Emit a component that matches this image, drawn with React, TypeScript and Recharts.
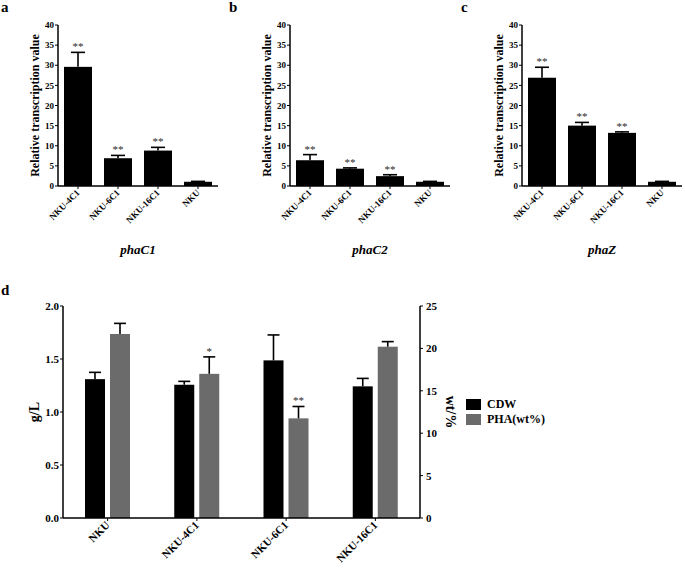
import React from 'react';
import { BarChart, Bar, XAxis, YAxis, Label, Legend } from 'recharts';

const FONT = "'Liberation Serif', 'Times New Roman', Times, serif";

// Panels a-c
const strains = ['NKU-4C1', 'NKU-6C1', 'NKU-16C1', 'NKU'];
const phaC1Values = [29.6, 6.9, 8.8, 1.05];
const phaC1Errors = [3.6, 0.7, 0.8, 0.1];
const phaC2Values = [6.4, 4.3, 2.45, 1.05];
const phaC2Errors = [1.4, 0.2, 0.35, 0.1];
const phaZValues = [26.9, 15.0, 13.2, 1.05];
const phaZErrors = [2.6, 0.8, 0.25, 0.1];
const relMarks = ['**', '**', '**', ''];
const relTicks = [0, 5, 10, 15, 20, 25, 30, 35, 40];

// Panel d
const strainsD = ['NKU', 'NKU-4C1', 'NKU-6C1', 'NKU-16C1'];
const cdwValues = [1.31, 1.257, 1.487, 1.242];
const cdwErrors = [0.064, 0.032, 0.24, 0.075];
const phaValues = [21.7, 17.0, 11.75, 20.2];
const phaErrors = [1.25, 2.0, 1.4, 0.6];
const cdwMarks = ['', '', '', ''];
const phaMarks = ['', '*', '**', ''];
const gTicks = [0, 0.5, 1.0, 1.5, 2.0];
const wtTicks = [0, 5, 10, 15, 20, 25];

const relData = (vals: number[], errs: number[]) =>
  strains.map((s, i) => ({ name: s, value: vals[i], err: errs[i], mark: relMarks[i] }));

const dData = strainsD.map((s, i) => ({
  name: s,
  cdw: cdwValues[i],
  cdwErr: cdwErrors[i],
  cdwMark: cdwMarks[i],
  pha: phaValues[i],
  phaErr: phaErrors[i],
  phaMark: phaMarks[i],
}));

const makeShape =
  (valKey: string, errKey: string, markKey: string, fill: string, capW: number, markSize: number) =>
  (props: any) => {
    const { x, y, width, height, payload } = props;
    const v = payload[valKey];
    const k = v ? height / v : 0;
    const errTop = y - payload[errKey] * k;
    const cx = x + width / 2;
    const mark = payload[markKey];
    return (
      <g>
        <rect x={x} y={y} width={width} height={height} fill={fill} />
        <line x1={cx} y1={y} x2={cx} y2={errTop} stroke="#000" strokeWidth={1.6} />
        <line x1={cx - capW / 2} y1={errTop} x2={cx + capW / 2} y2={errTop} stroke="#000" strokeWidth={1.6} />
        {mark ? (
          <text x={cx} y={errTop - 2} textAnchor="middle" fontSize={markSize} fill="#2a2a2a" fontFamily={FONT}>
            {mark}
          </text>
        ) : null}
      </g>
    );
  };

const rotTick = (fs: number) => (props: any) => {
  const { x, y, payload } = props;
  return (
    <g transform={`translate(${x},${y})`}>
      <text
        x={0}
        y={0}
        dy={fs * 0.35}
        textAnchor="end"
        transform="rotate(-45)"
        fontSize={fs}
        fontWeight="bold"
        fontFamily={FONT}
        fill="#000"
      >
        {payload.value}
      </text>
    </g>
  );
};

const RelPanel = ({ vals, errs, gene, left, letter }: any) => {
  const data = relData(vals, errs);
  return (
    <div style={{ position: 'absolute', left, top: 0, width: 225, height: 285 }}>
      <div
        style={{
          position: 'absolute',
          left: letter === 'a' ? 1 : -3,
          top: -2,
          fontFamily: FONT,
          fontWeight: 'bold',
          fontSize: 15,
          lineHeight: '18px',
        }}
      >
        {letter}
      </div>
      <BarChart
        width={225}
        height={285}
        data={data}
        margin={{ top: 25, right: 7, left: 30, bottom: 49 }}
        barSize={28}
      >
        <XAxis
          dataKey="name"
          height={50}
          interval={0}
          tick={rotTick(9)}
          tickSize={3}
          axisLine={{ stroke: '#000', strokeWidth: 1.5 }}
          tickLine={{ stroke: '#000', strokeWidth: 1 }}
        >
          <Label
            content={(p: any) => {
              const vb = p.viewBox || { x: 58, width: 160, y: 186 };
              return (
                <text
                  x={vb.x + vb.width / 2}
                  y={vb.y + 68}
                  textAnchor="middle"
                  fontSize={13}
                  fontWeight="bold"
                  fontStyle="italic"
                  fontFamily={FONT}
                  fill="#000"
                >
                  {gene}
                </text>
              );
            }}
          />
        </XAxis>
        <YAxis
          width={28}
          domain={[0, 40]}
          ticks={relTicks}
          interval={0}
          tickSize={3}
          tickMargin={1}
          tick={{ fontSize: 9, fontWeight: 'bold', fill: '#000', fontFamily: FONT }}
          axisLine={{ stroke: '#000', strokeWidth: 1.5 }}
          tickLine={{ stroke: '#000', strokeWidth: 1 }}
        >
          <Label
            content={(p: any) => {
              const vb = p.viewBox || { x: 30, y: 25, height: 161 };
              const cx = vb.x + 5;
              const cy = vb.y + vb.height / 2;
              return (
                <text
                  x={cx}
                  y={cy}
                  transform={`rotate(-90 ${cx} ${cy})`}
                  textAnchor="middle"
                  dominantBaseline="central"
                  fontSize={12}
                  fontWeight="bold"
                  fontFamily={FONT}
                  fill="#000"
                >
                  Relative transcription value
                </text>
              );
            }}
          />
        </YAxis>
        <Bar
          dataKey="value"
          isAnimationActive={false}
          shape={makeShape('value', 'err', 'mark', '#000', 14, 11)}
        />
      </BarChart>
    </div>
  );
};

const legendContent = (props: any) => {
  const payload = props.payload || [];
  return (
    <div style={{ fontFamily: FONT }}>
      {payload.map((p: any) => (
        <div key={p.value} style={{ display: 'flex', alignItems: 'center', height: 15 }}>
          <span
            style={{ display: 'inline-block', width: 15, height: 11, background: p.color, marginRight: 6 }}
          />
          <span style={{ fontSize: 12, fontWeight: 'bold', color: '#000' }}>{p.value}</span>
        </div>
      ))}
    </div>
  );
};

const PanelD = () => (
  <div style={{ position: 'absolute', left: 0, top: 280, width: 685, height: 290 }}>
    <div
      style={{
        position: 'absolute',
        left: 1,
        top: 1,
        fontFamily: FONT,
        fontWeight: 'bold',
        fontSize: 15,
        lineHeight: '18px',
      }}
    >
      d
    </div>
    <BarChart
      width={685}
      height={290}
      data={dData}
      margin={{ top: 26, right: 225, left: 28, bottom: 0 }}
      barSize={20}
      barGap={5}
    >
      <XAxis
        dataKey="name"
        height={52}
        interval={0}
        tick={rotTick(11)}
        tickSize={3}
        axisLine={{ stroke: '#000', strokeWidth: 1.5 }}
        tickLine={{ stroke: '#000', strokeWidth: 1 }}
      />
      <YAxis
        yAxisId="left"
        width={35}
        domain={[0, 2]}
        ticks={gTicks}
        interval={0}
        tickSize={3}
        tickMargin={1}
        tickFormatter={(v: number) => v.toFixed(1)}
        tick={{ fontSize: 11, fontWeight: 'bold', fill: '#000', fontFamily: FONT }}
        axisLine={{ stroke: '#000', strokeWidth: 1.5 }}
        tickLine={{ stroke: '#000', strokeWidth: 1 }}
      >
        <Label
          content={(p: any) => {
            const vb = p.viewBox || { x: 28, y: 26, height: 212 };
            const cx = vb.x + 6;
            const cy = vb.y + vb.height / 2;
            return (
              <text
                x={cx}
                y={cy}
                transform={`rotate(-90 ${cx} ${cy})`}
                textAnchor="middle"
                dominantBaseline="central"
                fontSize={14}
                fontWeight="bold"
                fontFamily={FONT}
                fill="#000"
              >
                g/L
              </text>
            );
          }}
        />
      </YAxis>
      <YAxis
        yAxisId="right"
        orientation="right"
        width={40}
        domain={[0, 25]}
        ticks={wtTicks}
        interval={0}
        tickSize={3}
        tickMargin={3}
        tick={{ fontSize: 11, fontWeight: 'bold', fill: '#000', fontFamily: FONT }}
        axisLine={{ stroke: '#000', strokeWidth: 1.5 }}
        tickLine={{ stroke: '#000', strokeWidth: 1 }}
      >
        <Label
          content={(p: any) => {
            const vb = p.viewBox || { x: 420, y: 26, height: 212 };
            const cx = vb.x + 30;
            const cy = vb.y + vb.height / 2;
            return (
              <text
                x={cx}
                y={cy}
                transform={`rotate(90 ${cx} ${cy})`}
                textAnchor="middle"
                dominantBaseline="central"
                fontSize={14}
                fontWeight="bold"
                fontFamily={FONT}
                fill="#000"
              >
                wt/%
              </text>
            );
          }}
        />
      </YAxis>
      <Legend
        layout="horizontal"
        verticalAlign="middle"
        align="center"
        content={legendContent}
        wrapperStyle={{ left: 466, top: 117, width: 120, height: 32 }}
      />
      <Bar
        yAxisId="left"
        dataKey="cdw"
        name="CDW"
        fill="#000"
        isAnimationActive={false}
        shape={makeShape('cdw', 'cdwErr', 'cdwMark', '#000', 12, 11)}
      />
      <Bar
        yAxisId="right"
        dataKey="pha"
        name="PHA(wt%)"
        fill="#6b6b6b"
        isAnimationActive={false}
        shape={makeShape('pha', 'phaErr', 'phaMark', '#6b6b6b', 12, 11)}
      />
    </BarChart>
  </div>
);

export default function App() {
  return (
    <div
      style={{
        position: 'absolute',
        left: 0,
        top: 0,
        width: 685,
        height: 570,
        overflow: 'hidden',
        background: '#fff',
        fontFamily: FONT,
      }}
    >
      <RelPanel vals={phaC1Values} errs={phaC1Errors} gene="phaC1" left={0} letter="a" />
      <RelPanel vals={phaC2Values} errs={phaC2Errors} gene="phaC2" left={232} letter="b" />
      <RelPanel vals={phaZValues} errs={phaZErrors} gene="phaZ" left={464} letter="c" />
      <PanelD />
    </div>
  );
}
